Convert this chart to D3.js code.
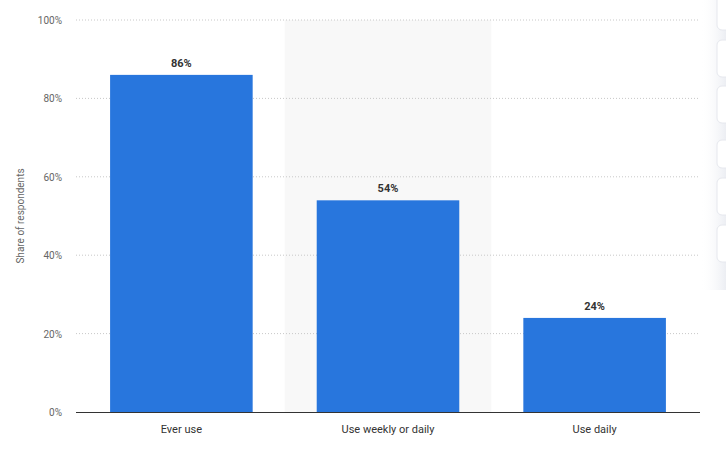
<!DOCTYPE html>
<html><head><meta charset="utf-8">
<script src="https://cdn.jsdelivr.net/npm/d3@7"></script>
<style>body{margin:0;background:#fff;}svg{display:block;font-family:Roboto,"Noto Sans",sans-serif;}</style>
</head><body><svg id="c" width="726" height="455"></svg>
<script>
const categories = ["Ever use", "Use weekly or daily", "Use daily"];
const values = [86, 54, 24];
const yTicks = [0, 20, 40, 60, 80, 100];
const yLabel = "Share of respondents";

const svg = d3.select("#c");
const m = {l:76, r:700, t:20, b:412};
const x = d3.scaleBand().domain(categories).range([m.l, m.r]).paddingInner(0.31).paddingOuter(0.165);
const y = d3.scaleLinear().domain([0,100]).range([m.b, m.t]);

// highlight band
const step = x.step();
svg.append("rect").attr("x", x(categories[1]) - (step - x.bandwidth())/2).attr("y", m.t)
  .attr("width", step).attr("height", m.b - m.t).attr("fill", "#f8f8f8");

// grid
svg.selectAll(".g").data(yTicks.filter(d=>d>0)).join("line")
  .attr("x1", m.l).attr("x2", m.r).attr("y1", d=>y(d)).attr("y2", d=>y(d))
  .attr("stroke", "#c8c8c8").attr("stroke-dasharray", "1,2");

// y tick labels
svg.selectAll(".yt").data(yTicks).join("text")
  .attr("x", 62).attr("y", d=>y(d)+4).attr("text-anchor","end")
  .attr("font-size", 10).attr("fill", "#666").text(d=>d+"%");

svg.append("text").attr("transform", `translate(24,${(m.t+m.b)/2}) rotate(-90)`)
  .attr("text-anchor","middle").attr("font-size",10).attr("fill","#666").text(yLabel);

// bars
svg.selectAll(".b").data(values).join("rect")
  .attr("x", (d,i)=>x(categories[i])).attr("y", d=>y(d))
  .attr("width", x.bandwidth()).attr("height", d=>m.b - y(d)).attr("fill", "#2876dd");

svg.selectAll(".v").data(values).join("text")
  .attr("x", (d,i)=>x(categories[i]) + x.bandwidth()/2).attr("y", d=>y(d)-8)
  .attr("text-anchor","middle").attr("font-size",11).attr("font-weight","bold").attr("fill","#333")
  .text(d=>d+"%");

// axis line
svg.append("line").attr("x1", m.l).attr("x2", m.r).attr("y1", m.b+0.5).attr("y2", m.b+0.5).attr("stroke","#333");

svg.selectAll(".xl").data(categories).join("text")
  .attr("x", d=>x(d)+x.bandwidth()/2).attr("y", 433).attr("text-anchor","middle")
  .attr("font-size", 11).attr("fill","#333").text(d=>d);

// right side toolbar
const defs = svg.append("defs");
const gr = defs.append("linearGradient").attr("id","sh").attr("x1","0").attr("x2","1");
gr.append("stop").attr("offset","0").attr("stop-color","#fff").attr("stop-opacity",0);
gr.append("stop").attr("offset","1").attr("stop-color","#eceef3");
svg.append("rect").attr("x",700).attr("y",0).attr("width",26).attr("height",290).attr("fill","url(#sh)");
[[-6,30],[40,77],[86,123],[140,168],[178,215],[225,262]].forEach(([a,b])=>{
  svg.append("rect").attr("x",717).attr("y",a).attr("width",20).attr("height",b-a).attr("rx",5)
    .attr("fill","#fff").attr("stroke","#e6e8ee");
});
</script></body></html>
